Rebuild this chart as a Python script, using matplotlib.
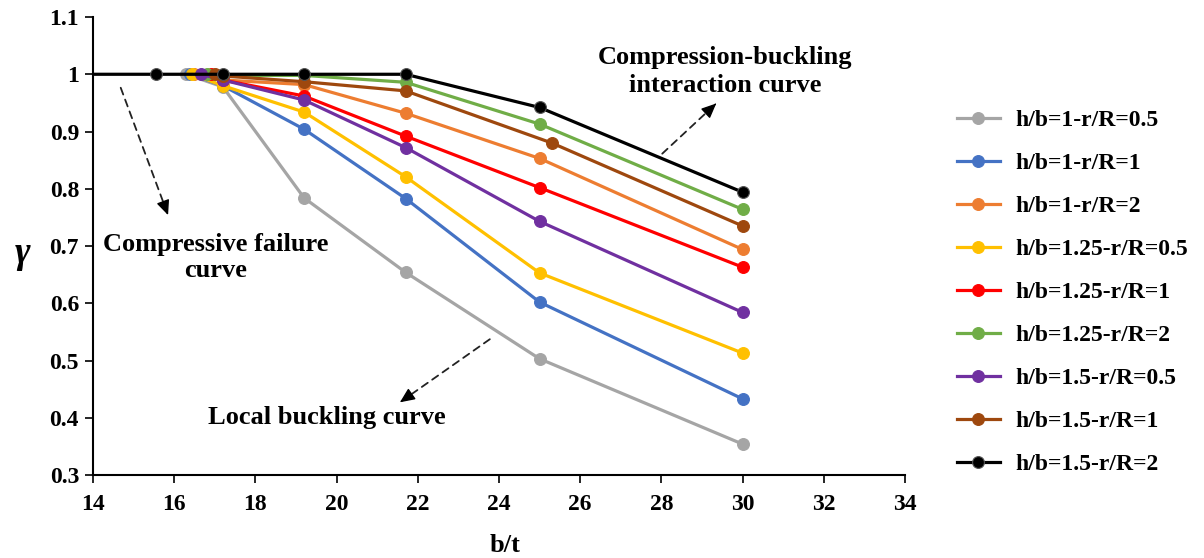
import matplotlib.pyplot as plt

plt.rcParams['font.family'] = ['Liberation Serif', 'DejaVu Serif']
plt.rcParams['font.weight'] = 'bold'

labels = ['h/b=1-r/R=0.5', 'h/b=1-r/R=1', 'h/b=1-r/R=2',
          'h/b=1.25-r/R=0.5', 'h/b=1.25-r/R=1', 'h/b=1.25-r/R=2',
          'h/b=1.5-r/R=0.5', 'h/b=1.5-r/R=1', 'h/b=1.5-r/R=2']
colors = ['#A5A5A5', '#4472C4', '#ED7D31', '#FFC000', '#FF0000',
          '#70AD47', '#7030A0', '#9E480E', '#000000']

# b/t values and gamma for each series
x_gray = [16.3, 17.2, 19.2, 21.7, 25, 30]
y_gray = [1.0, 0.978, 0.784, 0.654, 0.503, 0.354]
x_blue = [16.4, 17.2, 19.2, 21.7, 25, 30]
y_blue = [1.0, 0.98, 0.904, 0.783, 0.602, 0.433]
x_orange = [16.5, 17.2, 19.2, 21.7, 25, 30]
y_orange = [1.0, 0.99, 0.982, 0.932, 0.853, 0.694]
x_yellow = [16.45, 17.2, 19.2, 21.7, 25, 30]
y_yellow = [1.0, 0.98, 0.934, 0.821, 0.653, 0.513]
x_red = [16.9, 17.2, 19.2, 21.7, 25, 30]
y_red = [1.0, 0.99, 0.962, 0.892, 0.802, 0.663]
x_green = [16.8, 17.2, 19.2, 21.7, 25, 30]
y_green = [1.0, 0.998, 0.998, 0.986, 0.913, 0.764]
x_purple = [16.65, 17.2, 19.2, 21.7, 25, 30]
y_purple = [1.0, 0.99, 0.955, 0.872, 0.743, 0.584]
x_brown = [17.0, 17.2, 19.2, 21.7, 25.3, 30]
y_brown = [1.0, 0.997, 0.987, 0.971, 0.880, 0.735]
x_black = [14, 15.55, 17.2, 19.2, 21.7, 25, 30]
y_black = [1, 1, 1, 1, 1, 0.942, 0.794]

xs = [x_gray, x_blue, x_orange, x_yellow, x_red, x_green, x_purple, x_brown, x_black]
ys = [y_gray, y_blue, y_orange, y_yellow, y_red, y_green, y_purple, y_brown, y_black]

xticks = [14, 16, 18, 20, 22, 24, 26, 28, 30, 32, 34]
yticks = [0.3, 0.4, 0.5, 0.6, 0.7, 0.8, 0.9, 1.0, 1.1]
ytick_labels = ['0.3', '0.4', '0.5', '0.6', '0.7', '0.8', '0.9', '1', '1.1']

fig = plt.figure(figsize=(12.04, 5.58), dpi=100)
ax = fig.add_axes([0.0772, 0.1487, 0.6745, 0.8208])

for x, y, c, lab in zip(xs, ys, colors, labels):
    mec = '#555555' if c == '#000000' else c
    every = list(range(1, len(x))) if x[0] == 14 else None
    ax.plot(x, y, color=c, lw=2.3, marker='o', ms=8.5, mec=mec, mew=0.8,
            markevery=every, label=lab)

ax.set_xlim(14, 34)
ax.set_ylim(0.3, 1.1)
ax.set_xticks(xticks)
ax.set_yticks(yticks)
ax.set_yticklabels(ytick_labels)
ax.tick_params(direction='out', length=6, width=1.2, labelsize=17)
ax.tick_params(axis='y', pad=4)
ax.tick_params(axis='x', pad=8)
for s in ['top', 'right']:
    ax.spines[s].set_visible(False)
for s in ['left', 'bottom']:
    ax.spines[s].set_linewidth(1.5)

ax.set_xlabel('b/t', fontsize=19, fontweight='bold')
ax.xaxis.set_label_coords(0.507, -0.128)
ax.set_ylabel('γ', fontsize=27, fontweight='bold', style='italic', rotation=0)
ax.yaxis.set_label_coords(-0.086, 0.446)

# annotations
def dashed_arrow(x0, y0, x1, y1):
    ax.annotate('', xy=(x1, y1), xytext=(x0, y0),
                arrowprops=dict(arrowstyle='-', ls=(0, (4, 3)), lw=1.3, color='#222222'))
    ax.annotate('', xy=(x1, y1), xytext=(x1 - (x1 - x0) * 0.02, y1 - (y1 - y0) * 0.02),
                arrowprops=dict(arrowstyle='-|>,head_length=0.9,head_width=0.4',
                                lw=1, color='black'))

ax.text(17.02, 0.680, 'Compressive failure\ncurve', ha='center', va='center',
        fontsize=19, fontweight='bold', linespacing=1.2)
dashed_arrow(14.66, 0.981, 15.85, 0.754)
ax.text(29.57, 1.005, 'Compression-buckling\ninteraction curve', ha='center', va='center',
        fontsize=19, fontweight='bold', linespacing=1.25)
dashed_arrow(27.97, 0.858, 29.35, 0.949)
ax.text(19.75, 0.40, 'Local buckling curve', ha='center', va='center',
        fontsize=19, fontweight='bold')
dashed_arrow(23.83, 0.540, 21.56, 0.427)

ax.legend(loc='upper left', bbox_to_anchor=(0.795, 0.804), bbox_transform=fig.transFigure,
          frameon=False, fontsize=17, labelspacing=0.91, handlelength=1.8,
          handletextpad=0.68, borderaxespad=0, borderpad=0)

fig.savefig('out.png', dpi=100)
